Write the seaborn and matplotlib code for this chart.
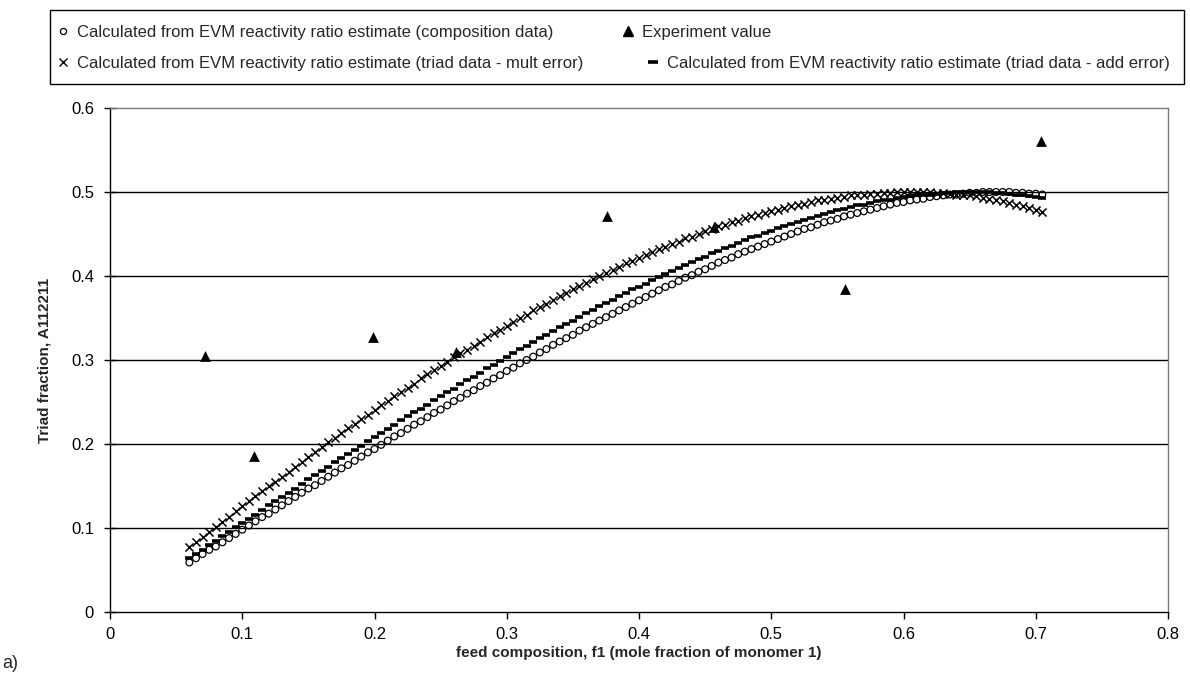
import matplotlib
matplotlib.use("Agg")
import matplotlib.pyplot as plt
from matplotlib.lines import Line2D
from matplotlib.patches import Rectangle
import seaborn as sns

# Feed composition f1 for the calculated curves
feed_f1 = [
    0.060, 0.065, 0.070, 0.075, 0.080, 0.085, 0.090, 0.095, 0.100, 0.105,
    0.110, 0.115, 0.120, 0.125, 0.130, 0.135, 0.140, 0.145, 0.150, 0.155,
    0.160, 0.165, 0.170, 0.175, 0.180, 0.185, 0.190, 0.195, 0.200, 0.205,
    0.210, 0.215, 0.220, 0.225, 0.230, 0.235, 0.240, 0.245, 0.250, 0.255,
    0.260, 0.265, 0.270, 0.275, 0.280, 0.285, 0.290, 0.295, 0.300, 0.305,
    0.310, 0.315, 0.320, 0.325, 0.330, 0.335, 0.340, 0.345, 0.350, 0.355,
    0.360, 0.365, 0.370, 0.375, 0.380, 0.385, 0.390, 0.395, 0.400, 0.405,
    0.410, 0.415, 0.420, 0.425, 0.430, 0.435, 0.440, 0.445, 0.450, 0.455,
    0.460, 0.465, 0.470, 0.475, 0.480, 0.485, 0.490, 0.495, 0.500, 0.505,
    0.510, 0.515, 0.520, 0.525, 0.530, 0.535, 0.540, 0.545, 0.550, 0.555,
    0.560, 0.565, 0.570, 0.575, 0.580, 0.585, 0.590, 0.595, 0.600, 0.605,
    0.610, 0.615, 0.620, 0.625, 0.630, 0.635, 0.640, 0.645, 0.650, 0.655,
    0.660, 0.665, 0.670, 0.675, 0.680, 0.685, 0.690, 0.695, 0.700, 0.705,
]

# Triad fraction A112211 from the EVM estimate (composition data)
triad_composition = [
    0.059, 0.064, 0.069, 0.074, 0.078, 0.083, 0.088, 0.093, 0.098, 0.103,
    0.108, 0.113, 0.117, 0.122, 0.127, 0.132, 0.137, 0.142, 0.147, 0.151,
    0.156, 0.161, 0.166, 0.171, 0.175, 0.180, 0.185, 0.190, 0.194, 0.199,
    0.204, 0.209, 0.213, 0.218, 0.223, 0.227, 0.232, 0.237, 0.241, 0.246,
    0.251, 0.255, 0.260, 0.264, 0.269, 0.273, 0.278, 0.282, 0.287, 0.291,
    0.296, 0.300, 0.304, 0.309, 0.313, 0.318, 0.322, 0.326, 0.330, 0.335,
    0.339, 0.343, 0.347, 0.351, 0.355, 0.359, 0.363, 0.367, 0.371, 0.375,
    0.379, 0.383, 0.387, 0.390, 0.394, 0.398, 0.401, 0.405, 0.408, 0.412,
    0.416, 0.419, 0.422, 0.426, 0.429, 0.432, 0.435, 0.438, 0.441, 0.444,
    0.447, 0.450, 0.453, 0.456, 0.458, 0.461, 0.464, 0.466, 0.468, 0.471,
    0.473, 0.475, 0.477, 0.479, 0.481, 0.483, 0.485, 0.487, 0.488, 0.490,
    0.491, 0.492, 0.494, 0.495, 0.496, 0.497, 0.497, 0.498, 0.499, 0.499,
    0.500, 0.500, 0.500, 0.500, 0.500, 0.499, 0.499, 0.498, 0.498, 0.497,
]

# Triad fraction from the EVM estimate (triad data, multiplicative error)
triad_mult_error = [
    0.077, 0.083, 0.089, 0.095, 0.101, 0.107, 0.113, 0.120, 0.126, 0.132,
    0.138, 0.144, 0.150, 0.155, 0.161, 0.167, 0.173, 0.179, 0.185, 0.190,
    0.196, 0.202, 0.207, 0.213, 0.219, 0.224, 0.230, 0.235, 0.240, 0.246,
    0.251, 0.257, 0.262, 0.267, 0.272, 0.278, 0.283, 0.288, 0.293, 0.298,
    0.303, 0.308, 0.312, 0.317, 0.322, 0.327, 0.332, 0.336, 0.341, 0.345,
    0.350, 0.354, 0.359, 0.363, 0.367, 0.372, 0.376, 0.380, 0.384, 0.388,
    0.392, 0.396, 0.400, 0.404, 0.407, 0.411, 0.415, 0.418, 0.422, 0.425,
    0.429, 0.432, 0.435, 0.438, 0.441, 0.445, 0.447, 0.450, 0.453, 0.456,
    0.459, 0.461, 0.464, 0.466, 0.469, 0.471, 0.473, 0.475, 0.477, 0.479,
    0.481, 0.483, 0.485, 0.486, 0.488, 0.490, 0.491, 0.492, 0.493, 0.494,
    0.496, 0.496, 0.497, 0.498, 0.498, 0.499, 0.499, 0.500, 0.500, 0.500,
    0.500, 0.500, 0.500, 0.499, 0.499, 0.498, 0.497, 0.497, 0.496, 0.495,
    0.493, 0.492, 0.490, 0.489, 0.487, 0.485, 0.483, 0.481, 0.478, 0.476,
]

# Triad fraction from the EVM estimate (triad data, additive error)
triad_add_error = [
    0.064, 0.069, 0.074, 0.080, 0.085, 0.090, 0.095, 0.101, 0.106, 0.111,
    0.116, 0.122, 0.127, 0.132, 0.137, 0.142, 0.147, 0.152, 0.158, 0.163,
    0.168, 0.173, 0.178, 0.183, 0.188, 0.193, 0.198, 0.203, 0.208, 0.213,
    0.218, 0.223, 0.228, 0.233, 0.238, 0.242, 0.247, 0.252, 0.257, 0.262,
    0.266, 0.271, 0.276, 0.280, 0.285, 0.290, 0.294, 0.299, 0.303, 0.308,
    0.313, 0.317, 0.321, 0.326, 0.330, 0.335, 0.339, 0.343, 0.347, 0.351,
    0.356, 0.360, 0.364, 0.368, 0.372, 0.376, 0.380, 0.384, 0.387, 0.391,
    0.395, 0.399, 0.402, 0.406, 0.410, 0.413, 0.417, 0.420, 0.423, 0.427,
    0.430, 0.433, 0.436, 0.439, 0.443, 0.446, 0.448, 0.451, 0.454, 0.457,
    0.460, 0.462, 0.464, 0.467, 0.469, 0.472, 0.474, 0.476, 0.478, 0.480,
    0.482, 0.484, 0.485, 0.487, 0.489, 0.490, 0.491, 0.493, 0.494, 0.495,
    0.496, 0.497, 0.497, 0.498, 0.499, 0.499, 0.500, 0.500, 0.500, 0.500,
    0.500, 0.500, 0.499, 0.499, 0.498, 0.497, 0.496, 0.495, 0.494, 0.493,
]

# Measured triad fractions
exp_f1 = [0.072, 0.109, 0.199, 0.262, 0.376, 0.457, 0.556, 0.704]
exp_triad = [0.305, 0.186, 0.327, 0.310, 0.471, 0.458, 0.385, 0.561]

x_ticks = [0.0, 0.1, 0.2, 0.3, 0.4, 0.5, 0.6, 0.7, 0.8]
x_tick_labels = ["0", "0.1", "0.2", "0.3", "0.4", "0.5", "0.6", "0.7", "0.8"]
y_ticks = [0.0, 0.1, 0.2, 0.3, 0.4, 0.5, 0.6]
y_tick_labels = ["0", "0.1", "0.2", "0.3", "0.4", "0.5", "0.6"]

legend_labels = [
    "Calculated from EVM reactivity ratio estimate (composition data)",
    "Experiment value",
    "Calculated from EVM reactivity ratio estimate (triad data - mult error)",
    "Calculated from EVM reactivity ratio estimate (triad data - add error)",
]

sns.set_style("white")
plt.rcParams["font.family"] = ["Liberation Sans", "DejaVu Sans"]

W, H = 1190, 674
fig = plt.figure(figsize=(W / 100, H / 100), dpi=100)
ax = fig.add_axes([110 / W, 1 - 612 / H, 1058 / W, 504 / H])

# Calculated curves
sns.scatterplot(x=feed_f1, y=triad_composition, ax=ax, marker="o", s=24,
                color="black", linewidth=0.9, zorder=3)
ax.collections[-1].set_facecolor("none")
ax.collections[-1].set_edgecolor("black")
sns.scatterplot(x=feed_f1, y=triad_add_error, ax=ax, marker="_", s=40,
                color="black", linewidth=2.6, zorder=3)
sns.scatterplot(x=feed_f1, y=triad_mult_error, ax=ax, marker="x", s=34,
                color="black", linewidth=1.1, zorder=4)
# Experimental points
sns.scatterplot(x=exp_f1, y=exp_triad, ax=ax, marker="^", s=60,
                color="black", linewidth=0, zorder=5)

ax.set_xlim(0, 0.8)
ax.set_ylim(0, 0.6)
ax.set_xticks(x_ticks)
ax.set_xticklabels(x_tick_labels)
ax.set_yticks(y_ticks)
ax.set_yticklabels(y_tick_labels)

ax.yaxis.grid(True, color="black", linewidth=1.0)
ax.xaxis.grid(False)
ax.set_axisbelow(True)
ygrid = ax.get_ygridlines()
ygrid[0].set_visible(False)
ygrid[-1].set_visible(False)

for side in ("left", "bottom"):
    ax.spines[side].set_color("black")
    ax.spines[side].set_linewidth(1.0)
for side in ("top", "right"):
    ax.spines[side].set_color("#7a7a7a")
    ax.spines[side].set_linewidth(1.0)
    ax.spines[side].set_linestyle((0, (1.5, 1)))

ax.tick_params(axis="x", bottom=True, direction="out", length=5, width=1,
               color="black", labelsize=12, pad=6, labelcolor="black")
ax.tick_params(axis="y", left=True, direction="inout", length=9, width=1,
               color="black", labelsize=12, pad=7, labelcolor="black")

ax.set_xlabel("feed composition, f1 (mole fraction of monomer 1)",
              fontsize=11, fontweight="bold", labelpad=3)
ax.set_ylabel("Triad fraction, A112211", fontsize=11, fontweight="bold",
              labelpad=14)

# Legend in two rows inside one box above the plot
h_circ = Line2D([], [], linestyle="", marker="o", ms=4.4, mfc="none",
                mec="black", mew=0.9)
h_tri = Line2D([], [], linestyle="", marker="^", ms=7, color="black")
h_x = Line2D([], [], linestyle="", marker="x", ms=5.5, color="black", mew=1)
h_dash = Line2D([], [], linestyle="", marker="_", ms=6.5, color="black",
                mew=2.6)

common = dict(loc="upper left", frameon=False, borderpad=0, borderaxespad=0,
              handlelength=0.8, handletextpad=0.45, fontsize=12, ncol=2)
fig.legend(handles=[h_circ, h_tri], labels=legend_labels[:2],
           bbox_to_anchor=(56 / W, 1 - 25 / H), columnspacing=4.1, **common)
fig.legend(handles=[h_x, h_dash], labels=legend_labels[2:],
           bbox_to_anchor=(56 / W, 1 - 56 / H), columnspacing=3.8, **common)
fig.add_artist(Rectangle((50 / W, 1 - 84 / H), 1134 / W, 74 / H,
                         transform=fig.transFigure, fill=False,
                         edgecolor="black", linewidth=1.0))

fig.text(2 / W, 2 / H, "a)", fontsize=13, va="bottom", ha="left")

fig.savefig("out.png", dpi=100, facecolor="white")
